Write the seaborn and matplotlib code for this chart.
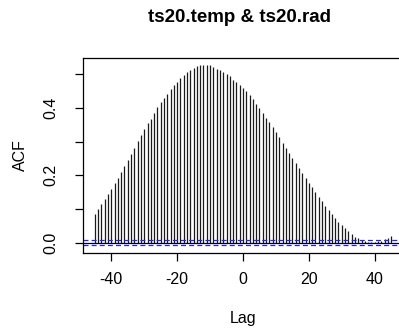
import numpy as np
import pandas as pd
import matplotlib
matplotlib.use("Agg")
import matplotlib.pyplot as plt
import seaborn as sns

title = "ts20.temp & ts20.rad"
lags = list(range(-45, 46))
acf_values = [
    0.085, 0.100, 0.114, 0.129, 0.144, 0.158, 0.176, 0.193, 0.211, 0.228,
    0.246, 0.263, 0.282, 0.302, 0.320, 0.337, 0.355, 0.368, 0.385, 0.402,
    0.417, 0.430, 0.443, 0.457, 0.468, 0.479, 0.489, 0.499, 0.506, 0.513,
    0.519, 0.524, 0.527, 0.528, 0.528, 0.527, 0.522, 0.517, 0.512, 0.507,
    0.501, 0.494, 0.485, 0.477, 0.469, 0.460, 0.450, 0.440, 0.426, 0.412,
    0.399, 0.386, 0.372, 0.359, 0.345, 0.329, 0.313, 0.297, 0.281, 0.267,
    0.252, 0.237, 0.222, 0.207, 0.193, 0.178, 0.164, 0.150, 0.137, 0.124,
    0.109, 0.097, 0.084, 0.072, 0.060, 0.051, 0.042, 0.033, 0.025, 0.018,
    0.013, 0.008, 0.005, 0.003, 0.003, 0.003, 0.004, 0.006, 0.010, 0.013,
    0.020,
]
conf_limit = 0.007
x_ticks = [-40, -20, 0, 20, 40]
y_ticks = [0.0, 0.1, 0.2, 0.3, 0.4, 0.5]
y_tick_labels = ["0.0", "", "0.2", "", "0.4", ""]

df = pd.DataFrame({"Lag": lags, "ACF": acf_values})

sns.set_theme(style="white")
plt.rcParams["font.family"] = ["Liberation Sans", "DejaVu Sans"]
plt.rcParams["text.color"] = "black"
plt.rcParams["axes.labelcolor"] = "black"

fig = plt.figure(figsize=(3.99, 3.33), dpi=100)
ax = fig.add_axes([83 / 399, 80 / 333, 320 / 399, 195 / 333])

ax.vlines(df["Lag"], 0, df["ACF"], color="#1a1a1a", linewidth=0.9)
ax.axhline(0, color="black", linewidth=0.9)
ax.axhline(conf_limit, color="#2222ee", linestyle=(0, (4, 2.5)), linewidth=0.9)
ax.axhline(-conf_limit, color="#2222ee", linestyle=(0, (4, 2.5)), linewidth=0.9)

ax.set_xlim(-48.6, 48.6)
ax.set_ylim(-0.031, 0.549)
ax.set_xticks(x_ticks)
ax.set_xticklabels([str(t) for t in x_ticks], fontsize=11.5)
ax.set_yticks(y_ticks)
ax.set_yticklabels(y_tick_labels, fontsize=11.5, rotation=90, va="center")

for s in ax.spines.values():
    s.set_color("black")
    s.set_linewidth(0.9)

ax.tick_params(axis="both", direction="out", length=5.8, width=0.9,
               color="black", labelcolor="black", bottom=True, left=True)
ax.tick_params(axis="x", pad=8)
ax.tick_params(axis="y", pad=12)

ax.set_xlabel("Lag", fontsize=11.5, labelpad=17, color="black")
ax.set_ylabel("ACF", fontsize=11.5, labelpad=11, color="black")
fig.text(240 / 399, 1 - 17 / 333, title, ha="center", va="center",
         fontsize=13.5, fontweight="bold", color="black")

fig.savefig("out.png", dpi=100)
